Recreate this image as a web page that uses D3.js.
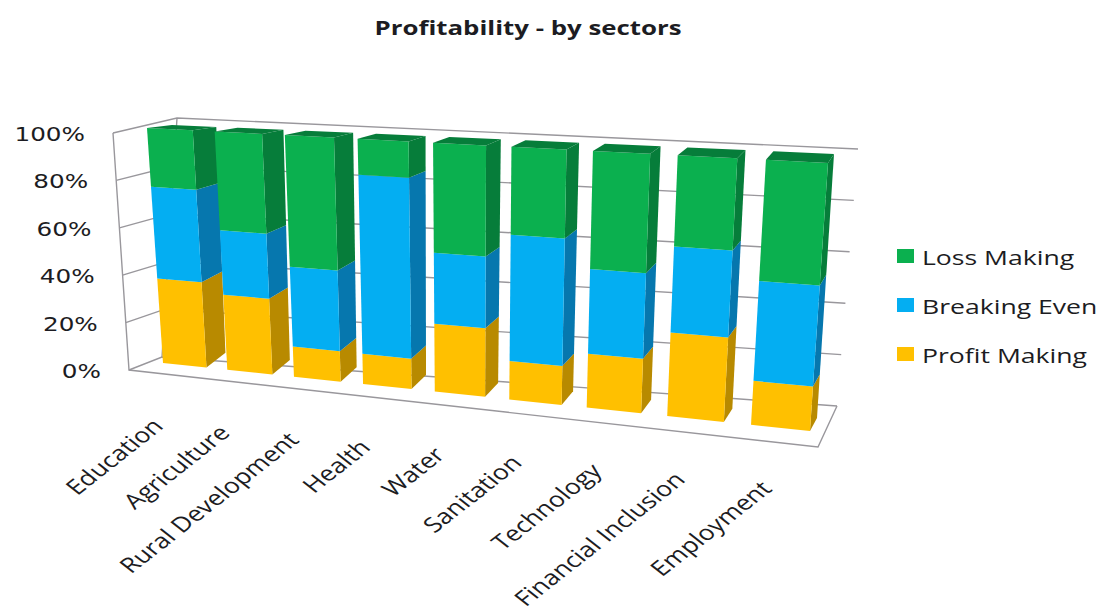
<!DOCTYPE html>
<html>
<head>
<meta charset="utf-8">
<style>
  html, body { margin: 0; padding: 0; background: #fff; }
  svg { display: block; }
  text { fill: #1c1c22; }
</style>
<script src="https://cdn.jsdelivr.net/npm/d3@7/dist/d3.min.js"></script>
</head>
<body>
<svg id="chart" width="1101" height="615"></svg>
<script>
// Sector profitability, share of organisations per outcome (percent)
const categories = ["Education", "Agriculture", "Rural Development", "Health", "Water",
                    "Sanitation", "Technology", "Financial Inclusion", "Employment"];
const profitMaking = [36, 31.5, 12.5, 12.3, 27.3, 15.2, 21, 32, 16.6];
const breakingEven = [39, 27, 33, 73, 28.5, 50, 33, 33, 37.7];
const lossMaking   = [25, 41.5, 54.5, 14.7, 44.2, 34.8, 46, 35, 45.7];
const seriesNames  = ["Profit Making", "Breaking Even", "Loss Making"];
const yTicks = [0, 20, 40, 60, 80, 100];

const frontColors = { "Profit Making": "#ffc000", "Breaking Even": "#04aef2", "Loss Making": "#0bb04f" };
const sideColors  = { "Profit Making": "#b88a00", "Breaking Even": "#0677ae", "Loss Making": "#067d3a" };
const gridColor = "#99979c";

const lerp = (a, b, t) => [a[0] + (b[0] - a[0]) * t, a[1] + (b[1] - a[1]) * t];

// Plane spanned by four corners; height is linear, width foreshortens by factor k
function plane(bl, br, tr, tl, k = 1) {
  return (u, v) => {
    const w = u / (u + k * (1 - u));
    return lerp(lerp(bl, br, w), lerp(tl, tr, w), v);
  };
}

// Box planes of the 3-D plot
const barPlane  = plane([163, 363], [810, 431], [828, 163], [147, 128], 1.18);
const backWall  = plane([162, 357], [837, 406], [858, 149], [177, 118]);
const floorEdge = { frontLeft: [129, 370], frontRight: [818, 447] };
const frontLeftTop = [113, 133];
const sideWall  = plane(floorEdge.frontLeft, backWall(0, 0), backWall(0, 1), frontLeftTop);

const x = d3.scaleBand().domain(categories).range([0, 1]).paddingInner(0.32);
const y = d3.scaleLinear().domain([0, 100]).range([0, 1]);

// Receding vector of a bar face, wider at the left of the plot and steeper at the top right
const depthX = (u, v) => d3.interpolateNumber(d3.interpolateNumber(20, 7)(u), d3.interpolateNumber(25, 6)(u))(v);
const depthY = (u, v) => d3.interpolateNumber(d3.interpolateNumber(-15, -13)(u), d3.interpolateNumber(-3, -9)(u))(v);
const back = (u, v) => {
  const p = barPlane(u, v);
  return [p[0] + depthX(u, v), p[1] + depthY(u, v)];
};

const svg = d3.select("#chart");
const line = d3.line();
const polygon = pts => line(pts) + "Z";

// Walls and gridlines
const grid = svg.append("g").attr("fill", "none").attr("stroke", gridColor).attr("stroke-width", 1.4);
yTicks.forEach(t => {
  const v = y(t);
  grid.append("path").attr("d", line([sideWall(0, v), sideWall(1, v), backWall(1, v)]));
});
grid.append("path").attr("d", line([frontLeftTop, floorEdge.frontLeft, floorEdge.frontRight, backWall(1, 0)]));
grid.append("path").attr("d", line([backWall(0, 0), backWall(0, 1)]));

// Stacked bars, left to right
const table = categories.map((c, i) => ({
  category: c,
  "Profit Making": profitMaking[i],
  "Breaking Even": breakingEven[i],
  "Loss Making": lossMaking[i]
}));
const stacked = d3.stack().keys(seriesNames)(table);

categories.forEach((c, i) => {
  const u0 = x(c), u1 = u0 + x.bandwidth();
  const bar = svg.append("g");
  stacked.forEach(layer => {
    const [s0, s1] = layer[i];
    const v0 = y(s0), v1 = y(s1), name = layer.key;
    bar.append("path").attr("fill", sideColors[name])
      .attr("d", polygon([barPlane(u1, v0), back(u1, v0), back(u1, v1), barPlane(u1, v1)]));
    bar.append("path").attr("fill", frontColors[name])
      .attr("d", polygon([barPlane(u0, v0), barPlane(u1, v0), barPlane(u1, v1), barPlane(u0, v1)]));
    if (name === "Loss Making") {
      bar.append("path").attr("fill", sideColors[name])
        .attr("d", polygon([barPlane(u0, v1), barPlane(u1, v1), back(u1, v1), back(u0, v1)]));
    }
  });
});

// Value axis labels along the front edge of the side wall
svg.append("g").selectAll("text").data(yTicks).join("text")
  .attr("transform", t => {
    const p = sideWall(0, y(t));
    return `translate(${p[0] - 28},${p[1] + 8}) scale(1.3,1)`;
  })
  .attr("text-anchor", "end")
  .attr("font-family", "DejaVu Sans")
  .attr("font-size", 19)
  .text(t => t + "%");

// Slanted category labels hanging under the floor, 45 degrees before the horizontal stretch
svg.append("g").selectAll("text").data(categories).join("text")
  .attr("transform", (c, i) => {
    const p = barPlane(x(c) + x.bandwidth() / 2, 0);
    return `translate(${p[0] - 20 + i * 1.6},${p[1] + 62}) scale(1.27,1) rotate(-45)`;
  })
  .attr("text-anchor", "end")
  .attr("font-family", "Open Sans")
  .attr("font-size", 21)
  .text(c => c);

// Title
svg.append("text")
  .attr("transform", "translate(528,35) scale(1.36,1)")
  .attr("text-anchor", "middle")
  .attr("font-family", "Open Sans")
  .attr("font-weight", 700)
  .attr("font-size", 19)
  .text("Profitability - by sectors");

// Legend, top entry last in the stack
const legend = svg.append("g").selectAll("g").data(seriesNames.slice().reverse()).join("g")
  .attr("transform", (d, i) => `translate(897,${d3.scalePoint().domain([0, 1, 2]).range([256, 354])(i)})`);
legend.append("rect").attr("x", 0).attr("y", -7).attr("width", 17).attr("height", 14)
  .attr("fill", d => frontColors[d]);
legend.append("text")
  .attr("transform", "translate(25,9) scale(1.33,1)")
  .attr("font-family", "Open Sans")
  .attr("font-size", 20)
  .text(d => d);
</script>
</body>
</html>
